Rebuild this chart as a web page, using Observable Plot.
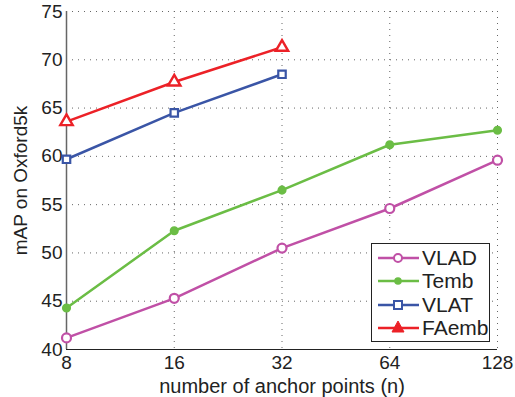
<!DOCTYPE html>
<html><head><meta charset="utf-8">
<script src="https://cdn.jsdelivr.net/npm/d3@7"></script>
<script src="https://cdn.jsdelivr.net/npm/@observablehq/plot@0.6"></script>
<style>
body{margin:0;background:#fff;}
#wrap{position:relative;width:515px;height:397px;font-family:"Liberation Sans",Arial,sans-serif;}
#legend{position:absolute;left:371px;top:243px;width:117px;height:97px;border:1px solid #222;background:#fff;}
.row{position:absolute;left:0;height:23px;display:flex;align-items:center;}
.row span{font-size:21px;color:#222;margin-left:1px;}
</style></head>
<body><div id="wrap"></div>
<script>
const anchors = [8, 16, 32, 64, 128];
const vlad  = [41.2, 45.3, 50.5, 54.6, 59.6];
const temb  = [44.3, 52.3, 56.5, 61.2, 62.7];
const vlat  = [59.7, 64.5, 68.5];
const faemb = [63.6, 67.7, 71.3];
const yTicks = [40, 45, 50, 55, 60, 65, 70, 75];
const seriesNames = ["VLAD", "Temb", "VLAT", "FAemb"];
const colors = {VLAD: "#c050a6", Temb: "#6bbd45", VLAT: "#3a55a6", FAemb: "#ec2127"};

const toRows = (name, vals) => vals.map((v, i) => ({name, x: anchors[i], y: v}));
const rows = {
  VLAD: toRows("VLAD", vlad),
  Temb: toRows("Temb", temb),
  VLAT: toRows("VLAT", vlat),
  FAemb: toRows("FAemb", faemb)
};

const chart = Plot.plot({
  width: 515, height: 397,
  marginLeft: 66, marginRight: 18, marginTop: 11, marginBottom: 48,
  style: {fontFamily: '"Liberation Sans", Arial, sans-serif', fontSize: "19px", color: "#222", background: "#fff"},
  x: {type: "log", base: 2, domain: [8, 128]},
  y: {domain: [40, 75]},
  marks: [
    Plot.gridX(anchors, {stroke: "#666", strokeOpacity: 1, strokeDasharray: "1,5", strokeWidth: 1}),
    Plot.gridY(yTicks, {stroke: "#666", strokeOpacity: 1, strokeDasharray: "1,5", strokeWidth: 1}),
    Plot.ruleX([8], {stroke: "#666", strokeWidth: 1.5}),
    Plot.ruleY([40], {stroke: "#222", strokeWidth: 1.2}),
    Plot.axisX({ticks: anchors, tickFormat: d => String(d), tickSize: 0, tickPadding: 6,
      label: null}),
    Plot.axisX({ticks: [], label: "number of anchor points (n)", labelAnchor: "center", labelArrow: "none", labelOffset: 43, fontSize: 20}),
    Plot.axisY({ticks: yTicks, tickSize: 0, tickPadding: 4, label: null}),
    Plot.axisY({ticks: [], label: "mAP on Oxford5k", labelAnchor: "center", labelArrow: "none", labelOffset: 53, fontSize: 19}),
    ...seriesNames.map(n => Plot.line(rows[n], {x: "x", y: "y", stroke: colors[n], strokeWidth: 2.5})),
    Plot.dot(rows.VLAD, {x: "x", y: "y", r: 4.5, stroke: colors.VLAD, strokeWidth: 2.2, fill: "white"}),
    Plot.dot(rows.Temb, {x: "x", y: "y", r: 3.8, fill: colors.Temb, stroke: colors.Temb}),
    Plot.dot(rows.VLAT, {x: "x", y: "y", symbol: "square", r: 4.2, stroke: colors.VLAT, strokeWidth: 2.2, fill: "white"}),
    Plot.dot(rows.FAemb, {x: "x", y: "y", symbol: "triangle", r: 4.6, stroke: colors.FAemb, strokeWidth: 2.4, fill: "white"})
  ]
});
const wrap = document.getElementById("wrap");
wrap.appendChild(chart);

// legend
const legend = document.createElement("div");
legend.id = "legend";
const sym = {
  VLAD: c => `<circle cx="21" cy="11" r="4" fill="white" stroke="${c}" stroke-width="2"/>`,
  Temb: c => `<circle cx="21" cy="11" r="3.8" fill="${c}"/>`,
  VLAT: c => `<rect x="17" y="7" width="8" height="8" fill="white" stroke="${c}" stroke-width="2"/>`,
  FAemb: c => `<path d="M21,4 L27,15 L15,15 Z" fill="${c}" stroke="${c}" stroke-width="1"/>`
};
seriesNames.forEach((n, i) => {
  const r = document.createElement("div");
  r.className = "row";
  r.style.top = (2 + i * 23.5) + "px";
  r.style.left = "5px";
  r.innerHTML = `<svg width="44" height="22"><line x1="1" y1="11" x2="42" y2="11" stroke="${colors[n]}" stroke-width="2.5"/>${sym[n](colors[n])}</svg><span>${n}</span>`;
  legend.appendChild(r);
});
wrap.appendChild(legend);
</script></body></html>
